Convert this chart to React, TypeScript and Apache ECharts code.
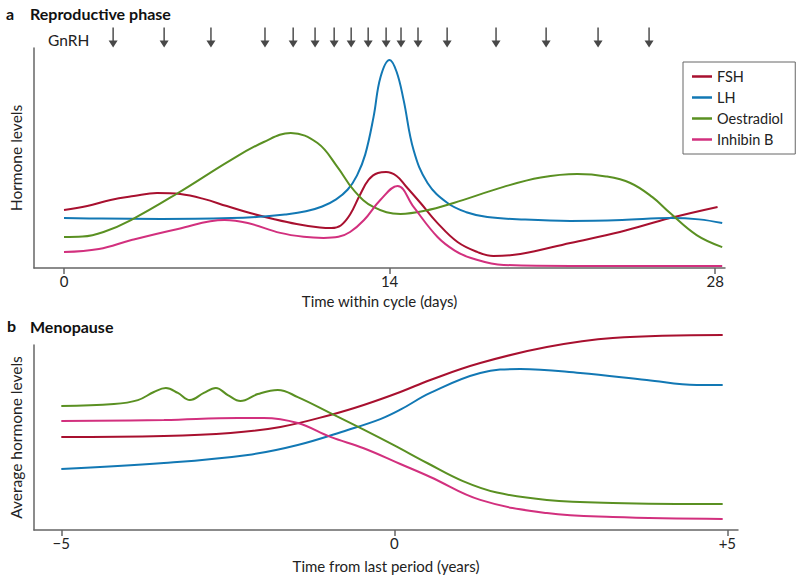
import React, { useEffect, useRef } from "react";
import * as echarts from "echarts";

// ---------- Panel a: reproductive phase (x = day of cycle, y = relative level) ----------
const cycleTicks = [0, 14, 28];
const gnrhPulseDays = [2.15, 4.34, 6.35, 8.67, 9.88, 10.82, 11.64, 12.37, 13.1, 13.87, 14.51, 15.24, 16.49, 18.59, 20.74, 22.97, 25.16];

const fshCycle: [number, number][] = [
  [0, 26.6], [1, 28.4], [2, 31.2], [3, 33.0], [4, 34.4], [5, 33.9], [6, 31.7], [7, 28.4],
  [8, 25.2], [9, 22.5], [10, 20.2], [11, 18.6], [11.5, 18.3], [11.9, 19.5], [12.3, 24.5],
  [12.7, 33.0], [13.1, 40.5], [13.5, 43.6], [13.85, 44.0], [14.3, 42.2], [14.7, 37.5],
  [15.33, 29.8], [16.06, 20.6], [16.92, 11.9], [17.78, 7.3], [18.46, 5.5], [19.62, 6.4],
  [21.77, 11.5], [23.9, 16.5], [26.06, 22.9], [28.1, 28.0],
];
const lhCycle: [number, number][] = [
  [0, 22.9], [1.6, 22.7], [4.2, 22.5], [7.2, 22.9], [8.6, 23.6], [9.5, 24.5], [10.4, 26.0],
  [11.1, 28.2], [11.7, 31.5], [12.2, 36.0], [12.6, 42.5], [12.95, 52.0], [13.31, 69.3],
  [13.61, 87.6], [14.0, 95.4], [14.3, 90.0], [14.6, 77.1], [15.03, 54.1], [15.63, 39.0],
  [16.49, 29.8], [17.3, 25.6], [18.2, 23.4], [19.8, 22.2], [21.77, 21.6], [24, 22.0],
  [26.06, 22.9], [27.3, 22.3], [28.3, 20.6],
];
const oestradiolCycle: [number, number][] = [
  [0, 14.2], [0.8, 14.4], [1.7, 16.5], [2.88, 22.0], [4.9, 34.4], [7.17, 49.5], [8.59, 57.8],
  [9.75, 61.9], [10.9, 57.3], [11.76, 46.3], [12.45, 35.8], [13.3, 28.0], [14.47, 24.8],
  [15.5, 26.2], [16.75, 29.8], [18.9, 37.2], [20.5, 41.5], [22.07, 43.1], [23.3, 42.0],
  [24.35, 39.0], [25.3, 32.5], [26.06, 25.2], [27.2, 15.1], [28.3, 9.6],
];
const inhibinCycle: [number, number][] = [
  [0, 7.3], [1.5, 8.7], [2.9, 12.8], [4.9, 17.9], [6.9, 22.0], [7.9, 20.6], [9.3, 16.1],
  [10.3, 14.3], [11.16, 13.8], [11.8, 14.3], [12.3, 16.5], [12.9, 22.0], [13.6, 31.2],
  [14.34, 37.6], [15.03, 28.0], [16.06, 14.2], [16.8, 8.0], [17.5, 4.6], [18.9, 1.4],
  [21.8, 0.9], [28.3, 0.9],
];

// ---------- Panel b: menopause (x = years from last period) ----------
const yearTicks = [-5, 0, 5];
const yearTickLabels = ["\u22125", "0", "+5"];

const fshMeno: [number, number][] = [
  [-5, 49.5], [-3.46, 50.0], [-2.46, 51.6], [-1.71, 54.8], [-0.96, 61.2], [-0.46, 66.5],
  [0.09, 73.4], [0.54, 79.8], [1.29, 88.8], [2.29, 97.3], [3.28, 102.1], [4.93, 103.7],
];
const lhMeno: [number, number][] = [
  [-5, 32.4], [-3.46, 35.6], [-2.2, 39.9], [-1.45, 45.2], [-0.7, 53.2], [-0.21, 59.0],
  [0.09, 64.0], [0.54, 72.9], [1.29, 83.5], [1.89, 85.6], [2.79, 83.5], [3.79, 79.8],
  [4.54, 77.1], [4.93, 77.1],
];
const oestradiolMeno: [number, number][] = [
  [-5, 66.0], [-4.21, 67.0], [-3.85, 69.1], [-3.61, 73.4], [-3.43, 75.5], [-3.25, 72.9],
  [-3.07, 69.1], [-2.86, 72.9], [-2.68, 75.5], [-2.5, 71.8], [-2.31, 68.6], [-2.05, 72.3],
  [-1.75, 74.5], [-1.45, 70.7], [-0.96, 62.2], [-0.46, 53.4], [0, 45.0], [0.5, 35.5],
  [1.03, 26.0], [1.54, 19.9], [2.29, 16.0], [3.28, 14.4], [4.93, 13.8],
];
const inhibinMeno: [number, number][] = [
  [-5, 58.0], [-3.46, 58.5], [-2.35, 59.6], [-1.96, 59.6], [-1.45, 56.9], [-0.96, 49.5],
  [-0.46, 43.5], [0.09, 35.1], [0.54, 28.2], [1.29, 16.0], [2.29, 9.0], [3.28, 6.9], [4.93, 5.9],
];

const hormoneNames = ["FSH", "LH", "Oestradiol", "Inhibin B"];
const hormoneColors = ["#a8102f", "#1278b4", "#5a9022", "#d2307e"];

const FONT = "Lato";
const AXIS_COLOR = "#666";
const ARROW = "path://M4.2,0 L5.8,0 L5.8,13 L10,13 L5,20 L0,13 L4.2,13 Z";

export default function App() {
  const ref = useRef<HTMLDivElement>(null);

  useEffect(() => {
    if (!ref.current) return;
    const chart = echarts.init(ref.current, null, { renderer: "svg" });

    const cycleData = [fshCycle, lhCycle, oestradiolCycle, inhibinCycle];
    const menoData = [fshMeno, lhMeno, oestradiolMeno, inhibinMeno];

    const lineSeries = (name: string, color: string, data: [number, number][], axis: number) => ({
      type: "line",
      name,
      data,
      xAxisIndex: axis,
      yAxisIndex: axis,
      smooth: 0.4,
      showSymbol: false,
      symbol: "none",
      clip: false,
      lineStyle: { color, width: 2 },
      itemStyle: { color },
    });

    const series: any[] = [];
    hormoneNames.forEach((n, i) => series.push(lineSeries(n, hormoneColors[i], cycleData[i], 0)));
    hormoneNames.forEach((n, i) => series.push(lineSeries(n, hormoneColors[i], menoData[i], 1)));
    series.push({
      type: "scatter",
      name: "GnRH",
      xAxisIndex: 2,
      yAxisIndex: 2,
      data: gnrhPulseDays.map((d) => [d, 0.5]),
      symbol: ARROW,
      symbolSize: [9, 20],
      itemStyle: { color: "#1a1a1a" },
    });

    const baseX = {
      type: "value",
      splitLine: { show: false },
      axisLine: { show: true, onZero: false, lineStyle: { color: AXIS_COLOR, width: 1.5 } },
      axisTick: { show: true, length: 6, lineStyle: { color: AXIS_COLOR, width: 1.5 } },
      axisLabel: { color: "#222", fontFamily: FONT, fontSize: 15, margin: 5 },
      nameLocation: "middle",
      nameTextStyle: { color: "#222", fontFamily: FONT, fontSize: 15 },
    };
    const baseY = {
      type: "value",
      min: 0,
      splitLine: { show: false },
      axisLine: { show: true, onZero: false, lineStyle: { color: AXIS_COLOR, width: 1.5 } },
      axisTick: { show: false },
      axisLabel: { show: false },
      nameLocation: "middle",
      nameGap: 10,
      nameTextStyle: { color: "#222", fontFamily: FONT, fontSize: 15.5 },
    };

    chart.setOption({
      animation: false,
      backgroundColor: "#fff",
      grid: [
        { left: 33, right: 75, top: 48, height: 220 },
        { left: 33, right: 62, top: 345, height: 185 },
        { left: 33, right: 75, top: 25, height: 25 },
      ],
      xAxis: [
        {
          ...baseX,
          gridIndex: 0,
          min: -1.29,
          max: 28.42,
          name: "Time within cycle (days)",
          nameGap: 25,
          axisTick: { ...baseX.axisTick, customValues: cycleTicks },
          axisLabel: { ...baseX.axisLabel, customValues: cycleTicks },
        },
        {
          ...baseX,
          gridIndex: 1,
          min: -5.41,
          max: 5.16,
          name: "Time from last period (years)",
          nameGap: 28,
          axisTick: { ...baseX.axisTick, customValues: yearTicks },
          axisLabel: {
            ...baseX.axisLabel,
            customValues: yearTicks,
            formatter: (v: number) => yearTickLabels[yearTicks.indexOf(Math.round(v))] ?? "",
          },
        },
        { type: "value", gridIndex: 2, min: -1.29, max: 28.42, show: false },
      ],
      yAxis: [
        { ...baseY, gridIndex: 0, max: 100.9, name: "Hormone levels" },
        { ...baseY, gridIndex: 1, max: 98.4, name: "Average hormone levels" },
        { type: "value", gridIndex: 2, min: 0, max: 1, show: false },
      ],
      legend: {
        data: hormoneNames,
        orient: "vertical",
        left: 683,
        top: 62,
        padding: [7, 12, 7, 9],
        itemGap: 6,
        itemWidth: 20,
        itemHeight: 2.5,
        icon: "rect",
        borderColor: "#666",
        borderWidth: 1,
        textStyle: { color: "#222", fontFamily: FONT, fontSize: 14.5 },
      },
      graphic: [
        { type: "text", left: 6, top: 5, style: { text: "a", fontFamily: FONT, fontWeight: "bold", fontSize: 16, fill: "#111" } },
        { type: "text", left: 30, top: 5, style: { text: "Reproductive phase", fontFamily: FONT, fontWeight: "bold", fontSize: 16, fill: "#111" } },
        { type: "text", left: 48, top: 32, style: { text: "GnRH", fontFamily: FONT, fontSize: 15.5, fill: "#222" } },
        { type: "text", left: 7, top: 317, style: { text: "b", fontFamily: FONT, fontWeight: "bold", fontSize: 16, fill: "#111" } },
        { type: "text", left: 30, top: 318, style: { text: "Menopause", fontFamily: FONT, fontWeight: "bold", fontSize: 16, fill: "#111" } },
      ],
      series,
    });

    return () => chart.dispose();
  }, []);

  return (
    <div
      ref={ref}
      style={{ position: "fixed", left: 0, top: 0, width: 800, height: 585 }}
    />
  );
}
